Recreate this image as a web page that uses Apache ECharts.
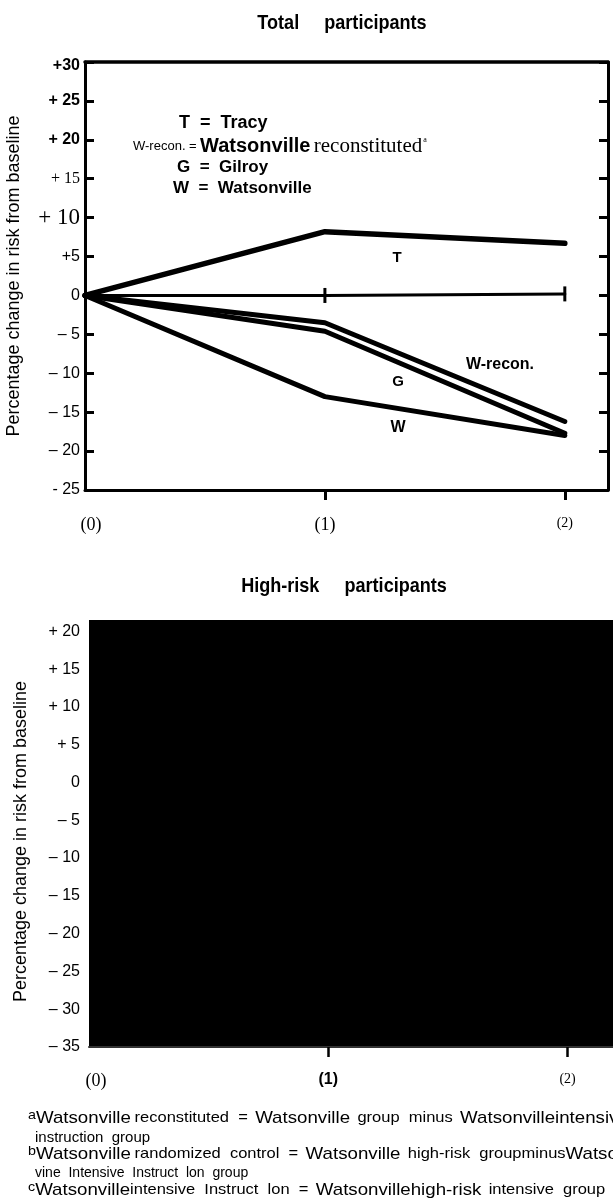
<!DOCTYPE html>
<html><head><meta charset="utf-8">
<script src="https://cdn.jsdelivr.net/npm/echarts@6/dist/echarts.min.js"></script>
<style>html,body{margin:0;padding:0;background:#fff}#c{width:613px;height:1201px}</style>
</head><body><div id="c"></div>
<script>
// ---- data ----
const timePoints = [0, 1, 2];
const xTickLabels = ['(0)', '(1)', '(2)'];
const totalTracy = [0, 8.2, 6.7];
const totalReference = [0, 0, 0.2];
const totalWRecon = [0, -3.5, -16.2];
const totalGilroy = [0, -4.6, -17.7];
const totalWatsonville = [0, -13.0, -18.0];
const totalYTicks = [-25, -20, -15, -10, -5, 0, 5, 10, 15, 20, 25, 30];
const totalYLabels = ['- 25', '– 20', '– 15', '– 10', '– 5', '0', '+5', '+ 10', '+ 15', '+ 20', '+ 25', '+30'];
const highRiskYTicks = [-35, -30, -25, -20, -15, -10, -5, 0, 5, 10, 15, 20];
const highRiskYLabels = ['– 35', '– 30', '– 25', '– 20', '– 15', '– 10', '– 5', '0', '+ 5', '+ 10', '+ 15', '+ 20'];

const SANS = 'Liberation Sans, Arial, sans-serif';
const SERIF = 'Liberation Serif, Times New Roman, serif';

function pts(vals) { return timePoints.map((t, i) => [t, vals[i]]); }

const chart = echarts.init(document.getElementById('c'), null, { renderer: 'canvas' });

function totalYFmt(v) {
  const i = totalYTicks.indexOf(v);
  if (i < 0) return '';
  const s = totalYLabels[i];
  if (v === 10) return '{big|' + s + '}';
  if (v === 15) return '{serif|' + s + '}';
  if (v === 30) return '{top|' + s + '}';
  if (v >= 20) return '{bold|' + s + '}';
  return '{n|' + s + '}';
}
function highYFmt(v) {
  const i = highRiskYTicks.indexOf(v);
  if (i < 0) return '';
  return highRiskYLabels[i];
}
function xFmt(v) {
  const i = timePoints.indexOf(v);
  if (i < 0) return '';
  return '{x' + i + '|' + xTickLabels[i] + '}';
}
function xFmt2(v) {
  const i = timePoints.indexOf(v);
  if (i < 0) return '';
  return '{y' + i + '|' + xTickLabels[i] + '}';
}

const lineStyle = w => ({ color: '#000', width: w, cap: 'round', join: 'round' });
const tx = (x, y, text, font, align) => ({ type: 'text', x: x, y: y,
  style: { text: text, font: font, fill: '#000', textAlign: align || 'left', textVerticalAlign: 'middle' } });
const footRich = {
  s: { fontFamily: SANS, fontSize: 13, fill: '#000', padding: [0, 0, 6, 0] },
  w: { fontFamily: SANS, fontSize: 17, fill: '#000' },
  t: { fontFamily: SANS, fontSize: 15, fill: '#000' }
};

const option = {
  animation: false,
  backgroundColor: '#fff',
  grid: [
    { left: 85, right: 5, top: 62, height: 428, outerBoundsMode: 'none', containLabel: false },
    { left: 89, right: 0, top: 620, height: 427, outerBoundsMode: 'none', containLabel: false,
      show: true, backgroundColor: '#000', borderWidth: 0 }
  ],
  xAxis: [
    {
      gridIndex: 0, type: 'value', min: 0, max: 2.18, position: 'bottom',
      splitLine: { show: false },
      axisLine: { onZero: false, lineStyle: { color: '#000', width: 3 } },
      axisTick: { customValues: [1, 2], length: 10, lineStyle: { color: '#000', width: 3 } },
      axisLabel: { customValues: timePoints, formatter: xFmt, margin: 26,
        rich: {
          x0: { fontFamily: SERIF, fontSize: 18, color: '#000', padding: [0, 0, 0, 12] },
          x1: { fontFamily: SERIF, fontSize: 18, color: '#000' },
          x2: { fontFamily: SERIF, fontSize: 14, color: '#000', padding: [0, 0, 6, 0] }
        } }
    },
    {
      gridIndex: 0, type: 'value', min: 0, max: 2.18, position: 'top',
      splitLine: { show: false },
      axisLine: { onZero: false, lineStyle: { color: '#000', width: 3.5 } },
      axisTick: { show: false }, axisLabel: { show: false }
    },
    {
      gridIndex: 1, type: 'value', min: 0, max: 2.19, position: 'bottom',
      splitLine: { show: false },
      axisLine: { onZero: false, lineStyle: { color: '#333', width: 2 } },
      axisTick: { customValues: [1, 2], length: 10, lineStyle: { color: '#000', width: 2.5 } },
      axisLabel: { customValues: timePoints, formatter: xFmt2, margin: 25,
        rich: {
          y0: { fontFamily: SERIF, fontSize: 18, color: '#000', padding: [0, 0, 0, 14] },
          y1: { fontFamily: SANS, fontSize: 16, fontWeight: 'bold', color: '#000' },
          y2: { fontFamily: SERIF, fontSize: 14, color: '#000', padding: [0, 0, 10, 0] }
        } }
    }
  ],
  yAxis: [
    {
      gridIndex: 0, type: 'value', min: -25, max: 30, interval: 5, position: 'left',
      splitLine: { show: false },
      axisLine: { onZero: false, lineStyle: { color: '#000', width: 3 } },
      axisTick: { inside: true, length: 9, lineStyle: { color: '#000', width: 3 } },
      axisLabel: { formatter: totalYFmt, margin: 5,
        rich: {
          n: { fontFamily: SANS, fontSize: 16, color: '#000' },
          bold: { fontFamily: SANS, fontSize: 16, fontWeight: 'bold', color: '#000' },
          top: { fontFamily: SANS, fontSize: 16, fontWeight: 'bold', color: '#000', padding: [8, 0, 0, 0] },
          serif: { fontFamily: SERIF, fontSize: 16, color: '#000' },
          big: { fontFamily: SERIF, fontSize: 23, color: '#000' }
        } },
      name: 'Percentage change in risk from baseline',
      nameLocation: 'middle', nameGap: 62,
      nameTextStyle: { fontFamily: SANS, fontSize: 18, color: '#000' }
    },
    {
      gridIndex: 0, type: 'value', min: -25, max: 30, interval: 5, position: 'right',
      splitLine: { show: false },
      axisLine: { onZero: false, lineStyle: { color: '#000', width: 3 } },
      axisTick: { inside: true, length: 9, lineStyle: { color: '#000', width: 3 } },
      axisLabel: { show: false }
    },
    {
      gridIndex: 1, type: 'value', min: -35, max: 21.5, interval: 5, position: 'left',
      splitLine: { show: false },
      axisLine: { show: false },
      axisTick: { show: false },
      axisLabel: { formatter: highYFmt, margin: 9, fontFamily: SANS, fontSize: 16, color: '#000' },
      name: 'Percentage change in risk from baseline',
      nameLocation: 'middle', nameGap: 59,
      nameTextStyle: { fontFamily: SANS, fontSize: 18, color: '#000', padding: [0, 0, 0, -16] }
    }
  ],
  series: [
    { name: 'T', type: 'line', xAxisIndex: 0, yAxisIndex: 0, data: pts(totalTracy), symbol: 'none', lineStyle: lineStyle(5.5), z: 5 },
    { name: 'Reference', type: 'line', xAxisIndex: 0, yAxisIndex: 0,
      data: pts(totalReference).map((p, i) => ({ value: p, symbol: i === 0 ? 'none' : 'rect', symbolSize: [3, 15] })),
      itemStyle: { color: '#000' }, lineStyle: lineStyle(3), z: 5 },
    { name: 'W-recon.', type: 'line', xAxisIndex: 0, yAxisIndex: 0, data: pts(totalWRecon), symbol: 'none', lineStyle: lineStyle(5), z: 5 },
    { name: 'G', type: 'line', xAxisIndex: 0, yAxisIndex: 0, data: pts(totalGilroy), symbol: 'none', lineStyle: lineStyle(5), z: 5 },
    { name: 'W', type: 'line', xAxisIndex: 0, yAxisIndex: 0, data: pts(totalWatsonville), symbol: 'none', lineStyle: lineStyle(5), z: 5 }
  ],
  graphic: [
    { type: 'text', x: 342, y: 23, scaleX: 0.86,
      style: { text: 'Total     participants', font: 'bold 21px ' + SANS, fill: '#000', textAlign: 'center', textVerticalAlign: 'middle' } },
    { type: 'text', x: 344, y: 586, scaleX: 0.86,
      style: { text: 'High-risk     participants', font: 'bold 21px ' + SANS, fill: '#000', textAlign: 'center', textVerticalAlign: 'middle' } },
    // legend
    tx(179, 123, 'T  =  Tracy', 'bold 18px ' + SANS),
    { type: 'text', x: 133, y: 146, style: {
        text: '{a|W-recon. =} {b|Watsonville} {c|reconstituted}{d|a}',
        rich: {
          a: { fontFamily: SANS, fontSize: 13, fill: '#000' },
          b: { fontFamily: SANS, fontSize: 20, fontWeight: 'bold', fill: '#000' },
          c: { fontFamily: SERIF, fontSize: 21, fill: '#000' },
          d: { fontFamily: SERIF, fontSize: 8, fill: '#000', padding: [0, 0, 12, 1] }
        }, textVerticalAlign: 'middle' } },
    tx(177, 167, 'G  =  Gilroy', 'bold 17px ' + SANS),
    tx(173, 188, 'W  =  Watsonville', 'bold 17px ' + SANS),
    // line labels
    tx(397, 258, 'T', 'bold 15px ' + SANS, 'center'),
    tx(500, 365, 'W-recon.', 'bold 16px ' + SANS, 'center'),
    tx(398, 382, 'G', 'bold 15px ' + SANS, 'center'),
    tx(398, 428, 'W', 'bold 16px ' + SANS, 'center'),
    // footnotes
    { type: 'text', x: 28, y: 1118, scaleX: 1.1, style: {
        text: '{s|a}{w|Watsonville} {t|reconstituted  =}  {w|Watsonville}  {t|group  minus}  {w|Watsonvilleintensive}',
        rich: footRich, textVerticalAlign: 'middle' } },
    tx(35, 1138, 'instruction  group', '15px ' + SANS),
    { type: 'text', x: 28, y: 1154, scaleX: 1.1, style: {
        text: '{s|b}{w|Watsonville} {t|randomized  control  =}  {w|Watsonville}  {t|high-risk  groupminus}{w|Watsonville}',
        rich: footRich, textVerticalAlign: 'middle' } },
    tx(35, 1173, 'vine  Intensive  Instruct  lon  group', '14px ' + SANS),
    { type: 'text', x: 28, y: 1190, scaleX: 1.1, style: {
        text: '{s|c}{w|Watsonville}{t|intensive  Instruct  lon  =}  {w|Watsonville}{w|high-risk}  {t|intensive  group}',
        rich: footRich, textVerticalAlign: 'middle' } }
  ]
};
chart.setOption(option);
</script>
</body></html>
